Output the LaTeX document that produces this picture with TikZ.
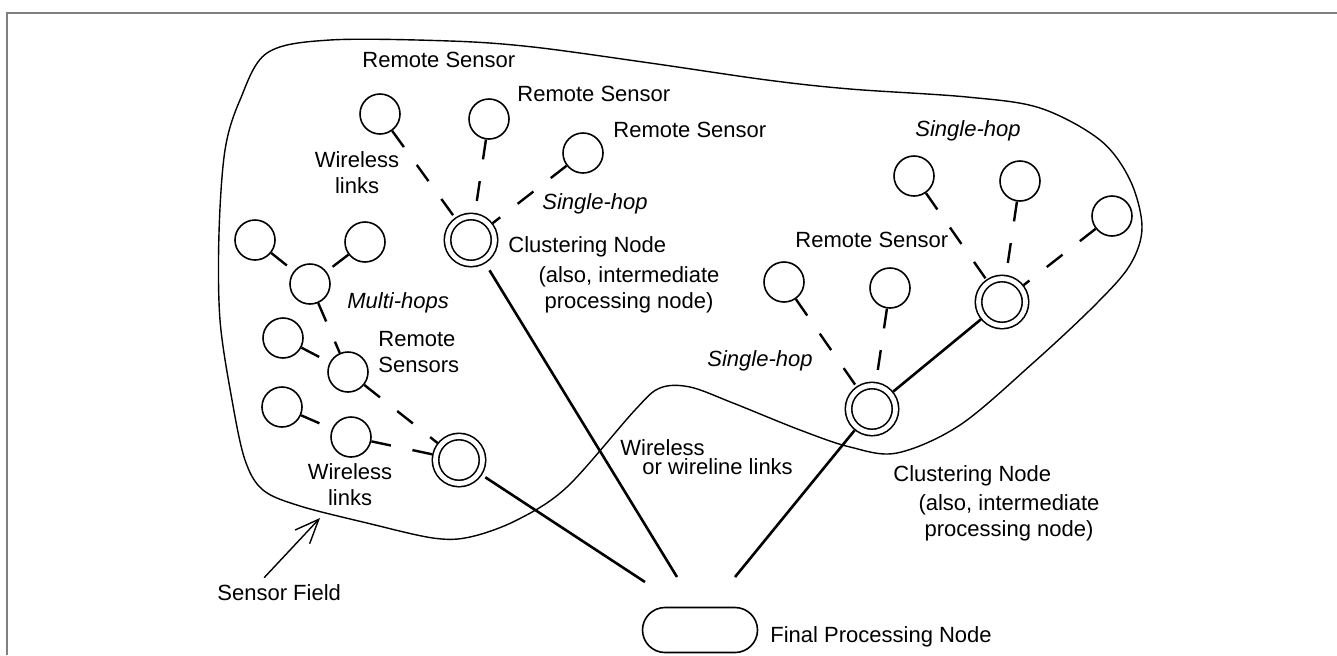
\documentclass[tikz,border=0pt]{standalone}
\usepackage{fontspec}
\setmainfont{Liberation Sans}
\usetikzlibrary{positioning,arrows.meta,shapes.misc}
\tikzset{
  sensor/.style={circle, draw, line width=0.8pt, minimum size=20pt, inner sep=0pt},
  cluster/.style={circle, draw, line width=0.8pt, double, double distance=2.4pt,
    minimum size=23.5pt, inner sep=0pt, outer sep=2pt},
  sink/.style={rounded rectangle, draw, line width=0.8pt, minimum width=57.5pt,
    minimum height=22.5pt, inner sep=0pt},
  hop/.style={line width=1.2pt, dash pattern=on 10pt off 11pt},
  wire/.style={line width=1.3pt},
  lbl/.style={font=\fontsize{11}{13}\selectfont, inner sep=0pt, align=center},
  lblit/.style={lbl, font=\fontsize{11}{13}\selectfont\itshape},
}

\begin{document}
\begin{tikzpicture}[x=0.5pt, y=-0.5pt,
  field/.style={line width=0.7pt},
  fieldarrow/.style={line width=0.7pt, -{Straight Barb[length=12pt, width=10pt]}}]
  \useasboundingbox (0,0) rectangle (1337,655);
  % 枠
  \draw[black!50, line width=1pt] (7,655) -- (7,13) -- (1337,13);
  % センサフィールド
  \draw[field] plot[smooth cycle, tension=0.55] coordinates {
    (267,53) (330,40) (450,41) (533,47) (650,63) (767,80) (850,89) (967,97)
    (1040,108) (1100,140) (1130,180) (1142,227) (1130,265) (1095,305)
    (1033,363) (960,425) (897,453) (850,447) (800,430) (733,403) (690,387)
    (660,388) (635,410) (567,487) (517,520) (470,537) (433,538) (367,523)
    (300,506) (263,490) (245,460) (232,400) (220,320) (219,233) (225,150)
    (240,100)};

  % 上のクラスタ
  \node[sensor] (a1) at (380,114) {};
  \node[sensor] (a2) at (489,119) {};
  \node[sensor] (a3) at (583,153) {};
  \node[cluster] (c1) at (471,240) {};
  % 左のクラスタ（マルチホップ）
  \node[sensor] (b1) at (255,240) {};
  \node[sensor] (b2) at (365,242) {};
  \node[sensor] (b3) at (310,284) {};
  \node[sensor] (b4) at (283,338) {};
  \node[sensor] (b5) at (348,372) {};
  \node[sensor] (b6) at (282,407) {};
  \node[sensor] (b7) at (351,437) {};
  \node[cluster] (c2) at (459,460) {};
  % 右のクラスタ
  \node[sensor] (d1) at (914,176) {};
  \node[sensor] (d2) at (1020,181) {};
  \node[sensor] (d3) at (1112,216) {};
  \node[cluster] (c3) at (1002,302) {};
  \node[sensor] (d4) at (784,282) {};
  \node[sensor] (d5) at (890,288) {};
  \node[cluster] (c4) at (872,409) {};
  % 最終処理ノード
  \node[sink] (fin) at (700,630) {};
  \coordinate (f1) at (677,577);
  \coordinate (f2) at (645,582);
  \coordinate (f3) at (735,577);

  % リンク
  \foreach \s/\t in {a1/c1, a2/c1, a3/c1, b1/b3, b2/b3, b3/b5, b4/b5, b5/c2,
      b6/b7, b7/c2, d1/c3, d2/c3, d3/c3, d4/c4, d5/c4}
    \draw[hop] (\s) -- (\t);
  \draw[wire, shorten <=4pt] (c1) -- (f1);
  \draw[wire, shorten <=2pt] (c2) -- (f2);
  \draw[wire] (c3) -- (c4);
  \draw[wire] (c4) -- (f3);

  % ラベル
  \node[lbl, anchor=base west] (rs1) at (362,67) {Remote Sensor};
  \node[lbl, anchor=base west] (rs2) at (517,101) {Remote Sensor};
  \node[lbl, anchor=base west] (rs3) at (613,137) {Remote Sensor};
  \node[lblit, anchor=base west] (sh1) at (542,209) {Single-hop};
  \node[lbl, anchor=base west] (cn1) at (508,252) {Clustering Node};
  \node[lbl, anchor=base] (cn1b) at (629,308) {(also, intermediate\\processing node)};
  \node[lbl, anchor=base] (wl1) at (357,193) {Wireless\\links};
  \node[lblit, anchor=base west] (mh) at (347,308) {Multi-hops};
  \node[lbl, anchor=base west, align=left] (rss) at (378,372) {Remote\\Sensors};
  \node[lbl, anchor=base] (wl2) at (350,505) {Wireless\\links};
  \node[lbl, anchor=base west] (ww1) at (620,455) {Wireless};
  \node[lbl, anchor=base west] (ww2) at (642,474) {or wireline links};
  \node[lblit, anchor=base west] (sh2) at (707,366) {Single-hop};
  \node[lbl, anchor=base west] (rs4) at (795,247) {Remote Sensor};
  \node[lblit, anchor=base west] (sh3) at (915,136) {Single-hop};
  \node[lbl, anchor=base west] (cn2) at (893,481) {Clustering Node};
  \node[lbl, anchor=base] (cn2b) at (1009,536) {(also, intermediate\\processing node)};
  \node[lbl, anchor=base west] (fpn) at (770,642) {Final Processing Node};
  \node[lbl, anchor=base west] (sf) at (217,600) {Sensor Field};
  \coordinate (sftip) at (320,518);
  \draw[fieldarrow] ([xshift=-7.5pt, yshift=3pt]sf.north) -- (sftip);
\end{tikzpicture}
\end{document}
